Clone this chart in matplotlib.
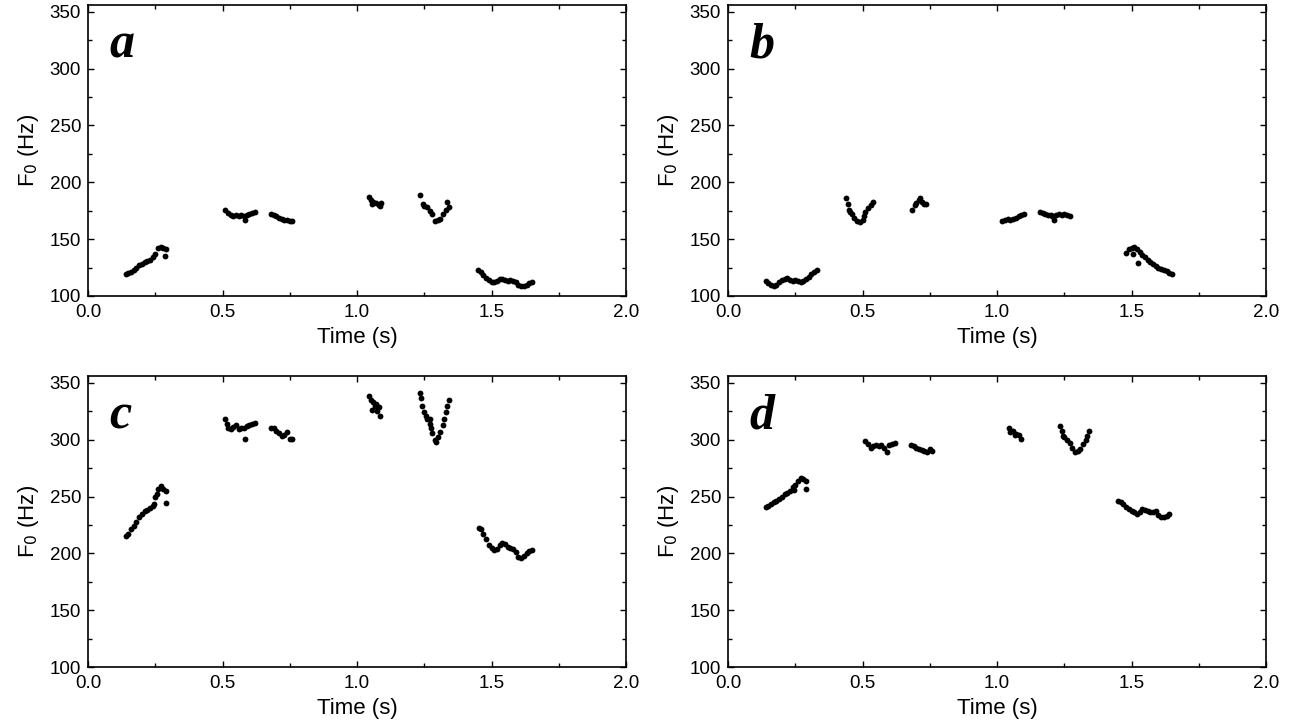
import matplotlib
matplotlib.use("Agg")
import matplotlib.pyplot as plt
from matplotlib.ticker import MultipleLocator, FormatStrFormatter

plt.rcParams['font.family'] = ['Liberation Sans', 'DejaVu Sans']

# ---- panel a : (time s, F0 Hz) per voiced segment ----
A_T = [
    [0.14, 0.15, 0.16, 0.17, 0.18, 0.19, 0.20, 0.21, 0.22, 0.23, 0.24, 0.25, 0.26, 0.27, 0.28, 0.285, 0.29],
    [0.51, 0.52, 0.53, 0.54, 0.55, 0.56, 0.57, 0.58, 0.585, 0.59, 0.60, 0.61, 0.62],
    [0.68, 0.69, 0.70, 0.71, 0.72, 0.73, 0.74, 0.75, 0.76],
    [1.045, 1.05, 1.055, 1.06, 1.07, 1.08, 1.085, 1.09],
    [1.235, 1.245, 1.25, 1.26, 1.27, 1.28, 1.29, 1.30, 1.31, 1.32, 1.33, 1.335, 1.34],
    [1.45, 1.46, 1.47, 1.48, 1.49, 1.50, 1.51, 1.52, 1.53, 1.54, 1.55, 1.56, 1.57, 1.58, 1.59, 1.60, 1.61, 1.62, 1.63, 1.64, 1.65],
]
A_F = [
    [119, 120, 121, 123, 125, 127, 128, 130, 131, 132, 134, 137, 142, 143, 142, 135, 141],
    [176, 173, 171, 170, 171, 170, 171, 170, 167, 171, 172, 173, 174],
    [172, 171, 170, 169, 168, 167, 167, 166, 166],
    [187, 184, 181, 183, 182, 180, 179, 182],
    [189, 181, 179, 178, 175, 172, 166, 167, 168, 172, 176, 183, 178],
    [123, 121, 118, 116, 114, 112, 112, 113, 115, 115, 114, 113, 114, 113, 112, 110, 109, 109, 110, 111, 112],
]

# ---- panel b ----
B_T = [
    [0.14, 0.15, 0.16, 0.17, 0.18, 0.19, 0.20, 0.21, 0.22, 0.23, 0.24, 0.25, 0.26, 0.27, 0.28, 0.29, 0.30, 0.31, 0.32, 0.33],
    [0.44, 0.445, 0.45, 0.455, 0.46, 0.47, 0.48, 0.49, 0.50, 0.505, 0.51, 0.52, 0.53, 0.54],
    [0.685, 0.695, 0.70, 0.71, 0.715, 0.72, 0.73, 0.735],
    [1.02, 1.03, 1.04, 1.05, 1.06, 1.07, 1.08, 1.09, 1.10],
    [1.16, 1.17, 1.18, 1.19, 1.20, 1.205, 1.21, 1.22, 1.23, 1.24, 1.25, 1.26, 1.27],
    [1.48, 1.49, 1.50, 1.505, 1.51, 1.52, 1.525, 1.53, 1.54, 1.55, 1.56, 1.57, 1.58, 1.59, 1.60, 1.61, 1.62, 1.63, 1.64, 1.65],
]
B_F = [
    [113, 111, 110, 109, 110, 112, 114, 115, 116, 114, 113, 114, 113, 112, 113, 115, 117, 119, 121, 123],
    [186, 181, 176, 174, 172, 169, 166, 165, 167, 170, 174, 177, 180, 183],
    [176, 180, 182, 184, 186, 183, 181, 181],
    [166, 167, 168, 167, 168, 169, 170, 171, 172],
    [174, 173, 172, 171, 171, 170, 167, 171, 172, 171, 172, 171, 170],
    [138, 141, 142, 137, 143, 141, 129, 139, 136, 134, 132, 130, 128, 126, 125, 124, 123, 122, 120, 119],
]

# ---- panel c ----
C_T = [
    [0.14, 0.15, 0.16, 0.17, 0.18, 0.19, 0.20, 0.21, 0.22, 0.23, 0.24, 0.245, 0.25, 0.255, 0.26, 0.27, 0.28, 0.29, 0.29],
    [0.51, 0.515, 0.52, 0.53, 0.54, 0.55, 0.56, 0.57, 0.58, 0.585, 0.59, 0.60, 0.61, 0.62],
    [0.68, 0.69, 0.70, 0.71, 0.72, 0.73, 0.74, 0.75, 0.76],
    [1.045, 1.05, 1.055, 1.06, 1.065, 1.07, 1.075, 1.08, 1.085],
    [1.235, 1.237, 1.24, 1.25, 1.255, 1.26, 1.27, 1.27, 1.275, 1.28, 1.29, 1.295, 1.30, 1.31, 1.32, 1.325, 1.33, 1.335, 1.34],
    [1.455, 1.46, 1.47, 1.48, 1.49, 1.50, 1.51, 1.52, 1.53, 1.54, 1.55, 1.56, 1.57, 1.58, 1.59, 1.60, 1.61, 1.62, 1.63, 1.64, 1.65],
]
C_F = [
    [215, 217, 221, 224, 228, 232, 235, 237, 238, 240, 242, 243, 250, 252, 257, 259, 257, 255, 244],
    [318, 314, 310, 309, 311, 313, 309, 310, 310, 301, 312, 313, 314, 315],
    [310, 310, 308, 306, 303, 304, 307, 301, 301],
    [338, 335, 326, 333, 330, 331, 325, 329, 321],
    [341, 337, 330, 324, 321, 318, 314, 318, 310, 306, 300, 298, 302, 307, 313, 318, 324, 330, 335],
    [222, 221, 217, 213, 207, 205, 203, 204, 207, 209, 208, 206, 205, 204, 201, 197, 196, 198, 200, 202, 203],
]

# ---- panel d ----
D_T = [
    [0.14, 0.15, 0.16, 0.17, 0.18, 0.19, 0.20, 0.21, 0.22, 0.23, 0.24, 0.245, 0.25, 0.26, 0.27, 0.28, 0.29, 0.29],
    [0.51, 0.52, 0.53, 0.54, 0.55, 0.56, 0.57, 0.58, 0.59, 0.60, 0.61, 0.62],
    [0.68, 0.69, 0.70, 0.71, 0.72, 0.73, 0.74, 0.75, 0.76],
    [1.045, 1.05, 1.06, 1.065, 1.07, 1.08, 1.09],
    [1.235, 1.24, 1.245, 1.25, 1.26, 1.27, 1.28, 1.29, 1.30, 1.31, 1.32, 1.33, 1.335, 1.34],
    [1.45, 1.46, 1.47, 1.48, 1.49, 1.50, 1.51, 1.52, 1.53, 1.54, 1.55, 1.56, 1.57, 1.58, 1.59, 1.60, 1.61, 1.62, 1.63, 1.64],
]
D_F = [
    [241, 242, 243, 245, 246, 248, 250, 252, 253, 255, 258, 256, 260, 264, 266, 265, 264, 257],
    [299, 296, 293, 294, 295, 294, 295, 293, 289, 295, 296, 297],
    [295, 294, 293, 292, 291, 290, 289, 292, 290],
    [310, 307, 308, 304, 305, 304, 301],
    [312, 308, 303, 302, 300, 297, 293, 289, 290, 292, 296, 300, 303, 308],
    [246, 245, 243, 241, 239, 237, 236, 235, 236, 239, 238, 237, 236, 236, 237, 234, 232, 232, 233, 235],
]

PANELS = [("a", A_T, A_F), ("b", B_T, B_F), ("c", C_T, C_F), ("d", D_T, D_F)]

BOXES = [
    [0.0683, 0.5929, 0.4174, 0.4003],
    [0.5648, 0.5929, 0.4174, 0.4003],
    [0.0683, 0.0825, 0.4174, 0.4003],
    [0.5648, 0.0825, 0.4174, 0.4003],
]

fig = plt.figure(figsize=(12.89, 7.27), dpi=100)

for (letter, ts, fs), box in zip(PANELS, BOXES):
    ax = fig.add_axes(box)
    for t, f in zip(ts, fs):
        ax.plot(t, f, "o", color="black", markersize=4.2, markeredgewidth=0)

    ax.set_xlim(0, 2.0)
    ax.set_ylim(100, 356)
    ax.xaxis.set_major_locator(MultipleLocator(0.5))
    ax.xaxis.set_minor_locator(MultipleLocator(0.25))
    ax.yaxis.set_major_locator(MultipleLocator(50))
    ax.yaxis.set_minor_locator(MultipleLocator(25))
    ax.xaxis.set_major_formatter(FormatStrFormatter("%.1f"))
    ax.tick_params(which="both", direction="in", top=True, right=True,
                   length=4, width=1.0, labelsize=13.5)
    ax.tick_params(axis="x", which="major", pad=6)
    ax.tick_params(axis="y", which="major", pad=5)
    ax.tick_params(which="minor", length=3)
    for sp in ax.spines.values():
        sp.set_linewidth(1.2)

    ax.set_xlabel("Time (s)", fontsize=16, labelpad=4)
    ax.set_ylabel("F$_0$ (Hz)", fontsize=16, labelpad=6)

    ax.text(0.04, 0.82, letter, transform=ax.transAxes,
            fontsize=36, fontweight="bold", fontstyle="italic",
            family="Liberation Serif", va="baseline", ha="left")

fig.savefig("out.png", dpi=100)
